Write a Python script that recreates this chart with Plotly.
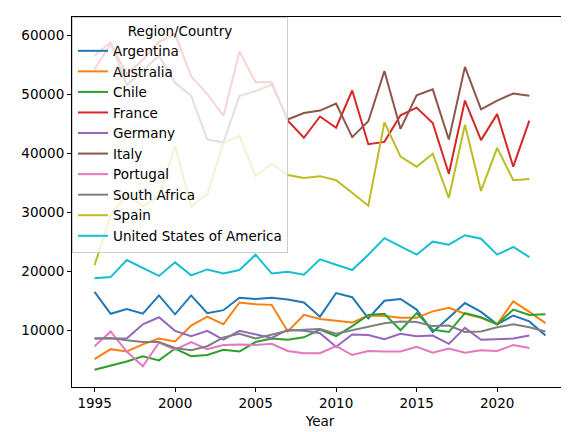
import plotly.graph_objects as go

years = list(range(1995, 2024))

argentina = [16500, 12800, 13600, 12800, 15900, 12700, 15900, 12900, 13400, 15500,
             15300, 15500, 15200, 14700, 12300, 16300, 15600, 12000, 15000, 15300,
             13500, 9700, 12100, 14600, 13100, 11000, 12500, 11500, 9100]
australia = [5100, 6800, 6400, 7600, 8600, 8100, 10800, 12300, 11000, 14700,
             14400, 14300, 9800, 12600, 11900, 11600, 11300, 12500, 12400, 12100,
             12100, 13200, 13800, 12800, 12100, 11000, 14900, 13100, 11200]
chile = [3300, 4000, 4700, 5600, 4900, 6900, 5600, 5800, 6700, 6400,
         8000, 8600, 8400, 8800, 10100, 9000, 10700, 12600, 12800, 10000,
         12900, 10100, 9700, 12900, 12200, 11000, 13500, 12600, 12700]
france = [54200, 58500, 53400, 55800, 58800, 60200, 53000, 50000, 46300, 57200,
          52000, 52000, 45500, 42600, 46200, 44300, 50600, 41500, 41900, 46400,
          47700, 45100, 36500, 48900, 42200, 46600, 37700, 45500, None]
germany = [8600, 8600, 8600, 11000, 12200, 9900, 9000, 9900, 8400, 9900,
           9300, 8700, 10100, 9900, 9500, 7200, 9300, 9200, 8500, 9400,
           9000, 9100, 7700, 10400, 8400, 8500, 8600, 9100, None]
italy = [56500, 58800, 51500, 54000, 56500, 51900, 49700, 42300, 41800, 49700,
         50500, 51600, 45700, 46800, 47200, 48400, 42700, 45400, 53900, 44100,
         49800, 50800, 42300, 54600, 47400, 48900, 50100, 49700, None]
portugal = [7300, 9800, 6400, 3900, 7900, 6700, 8000, 6800, 7500, 7600,
            7500, 7700, 6500, 6100, 6100, 7300, 5800, 6500, 6400, 6400,
            7200, 6200, 6900, 6200, 6600, 6500, 7500, 7000, None]
south_africa = [8600, 8700, 8300, 8000, 8000, 7000, 6600, 7300, 8800, 9400,
                8600, 9300, 9900, 10100, 10200, 9400, 10000, 10700, 11200, 11500,
                11400, 10700, 10800, 9700, 9800, 10500, 11000, 10500, 9800]
spain = [21000, 29500, 33000, 31000, 32700, 41200, 31000, 33000, 41800, 42900,
         36100, 38200, 36300, 35800, 36100, 35400, 33300, 31100, 45200, 39400,
         37700, 39900, 32400, 44800, 33600, 40900, 35400, 35600, None]
usa = [18800, 19000, 21900, 20600, 19200, 21500, 19300, 20300, 19600, 20200,
       22800, 19600, 19900, 19400, 22000, 21100, 20200, 22800, 25600, 24200,
       22800, 25000, 24500, 26100, 25500, 22800, 24100, 22400, None]

series = [
    ("Argentina", argentina, "#1f77b4"),
    ("Australia", australia, "#ff7f0e"),
    ("Chile", chile, "#2ca02c"),
    ("France", france, "#d62728"),
    ("Germany", germany, "#9467bd"),
    ("Italy", italy, "#8c564b"),
    ("Portugal", portugal, "#e377c2"),
    ("South Africa", south_africa, "#7f7f7f"),
    ("Spain", spain, "#bcbd22"),
    ("United States of America", usa, "#17becf"),
]

fig = go.Figure()
for name, vals, col in series:
    fig.add_trace(go.Scatter(x=years, y=vals, mode="lines", name=name,
                             line=dict(color=col, width=2)))

axis_style = dict(showline=True, linecolor="black", linewidth=1, mirror=True,
                  ticks="outside", ticklen=4, tickcolor="black", showgrid=False,
                  zeroline=False, tickfont=dict(size=13.5, color="black"))

fig.update_layout(
    width=569, height=432,
    margin=dict(l=64, r=9, t=9, b=53),
    paper_bgcolor="white", plot_bgcolor="white",
    font=dict(family="DejaVu Sans", size=13.5, color="black"),
    xaxis=dict(range=[1993.6, 2024.4], tickvals=[1995, 2000, 2005, 2010, 2015, 2020],
               title=dict(text="Year", font=dict(size=13.5), standoff=6), **axis_style),
    yaxis=dict(range=[390, 63050], tickvals=[10000, 20000, 30000, 40000, 50000, 60000],
               tickformat="d", **axis_style),
    legend=dict(x=0.0, y=1.0, xanchor="left", yanchor="top",
                bgcolor="rgba(255,255,255,0.8)", bordercolor="#cccccc", borderwidth=1,
                title=dict(text="Region/Country", side="top center", font=dict(size=13.5)),
                font=dict(size=13.5), tracegroupgap=0),
    showlegend=True,
)

fig.write_html("out.html")
